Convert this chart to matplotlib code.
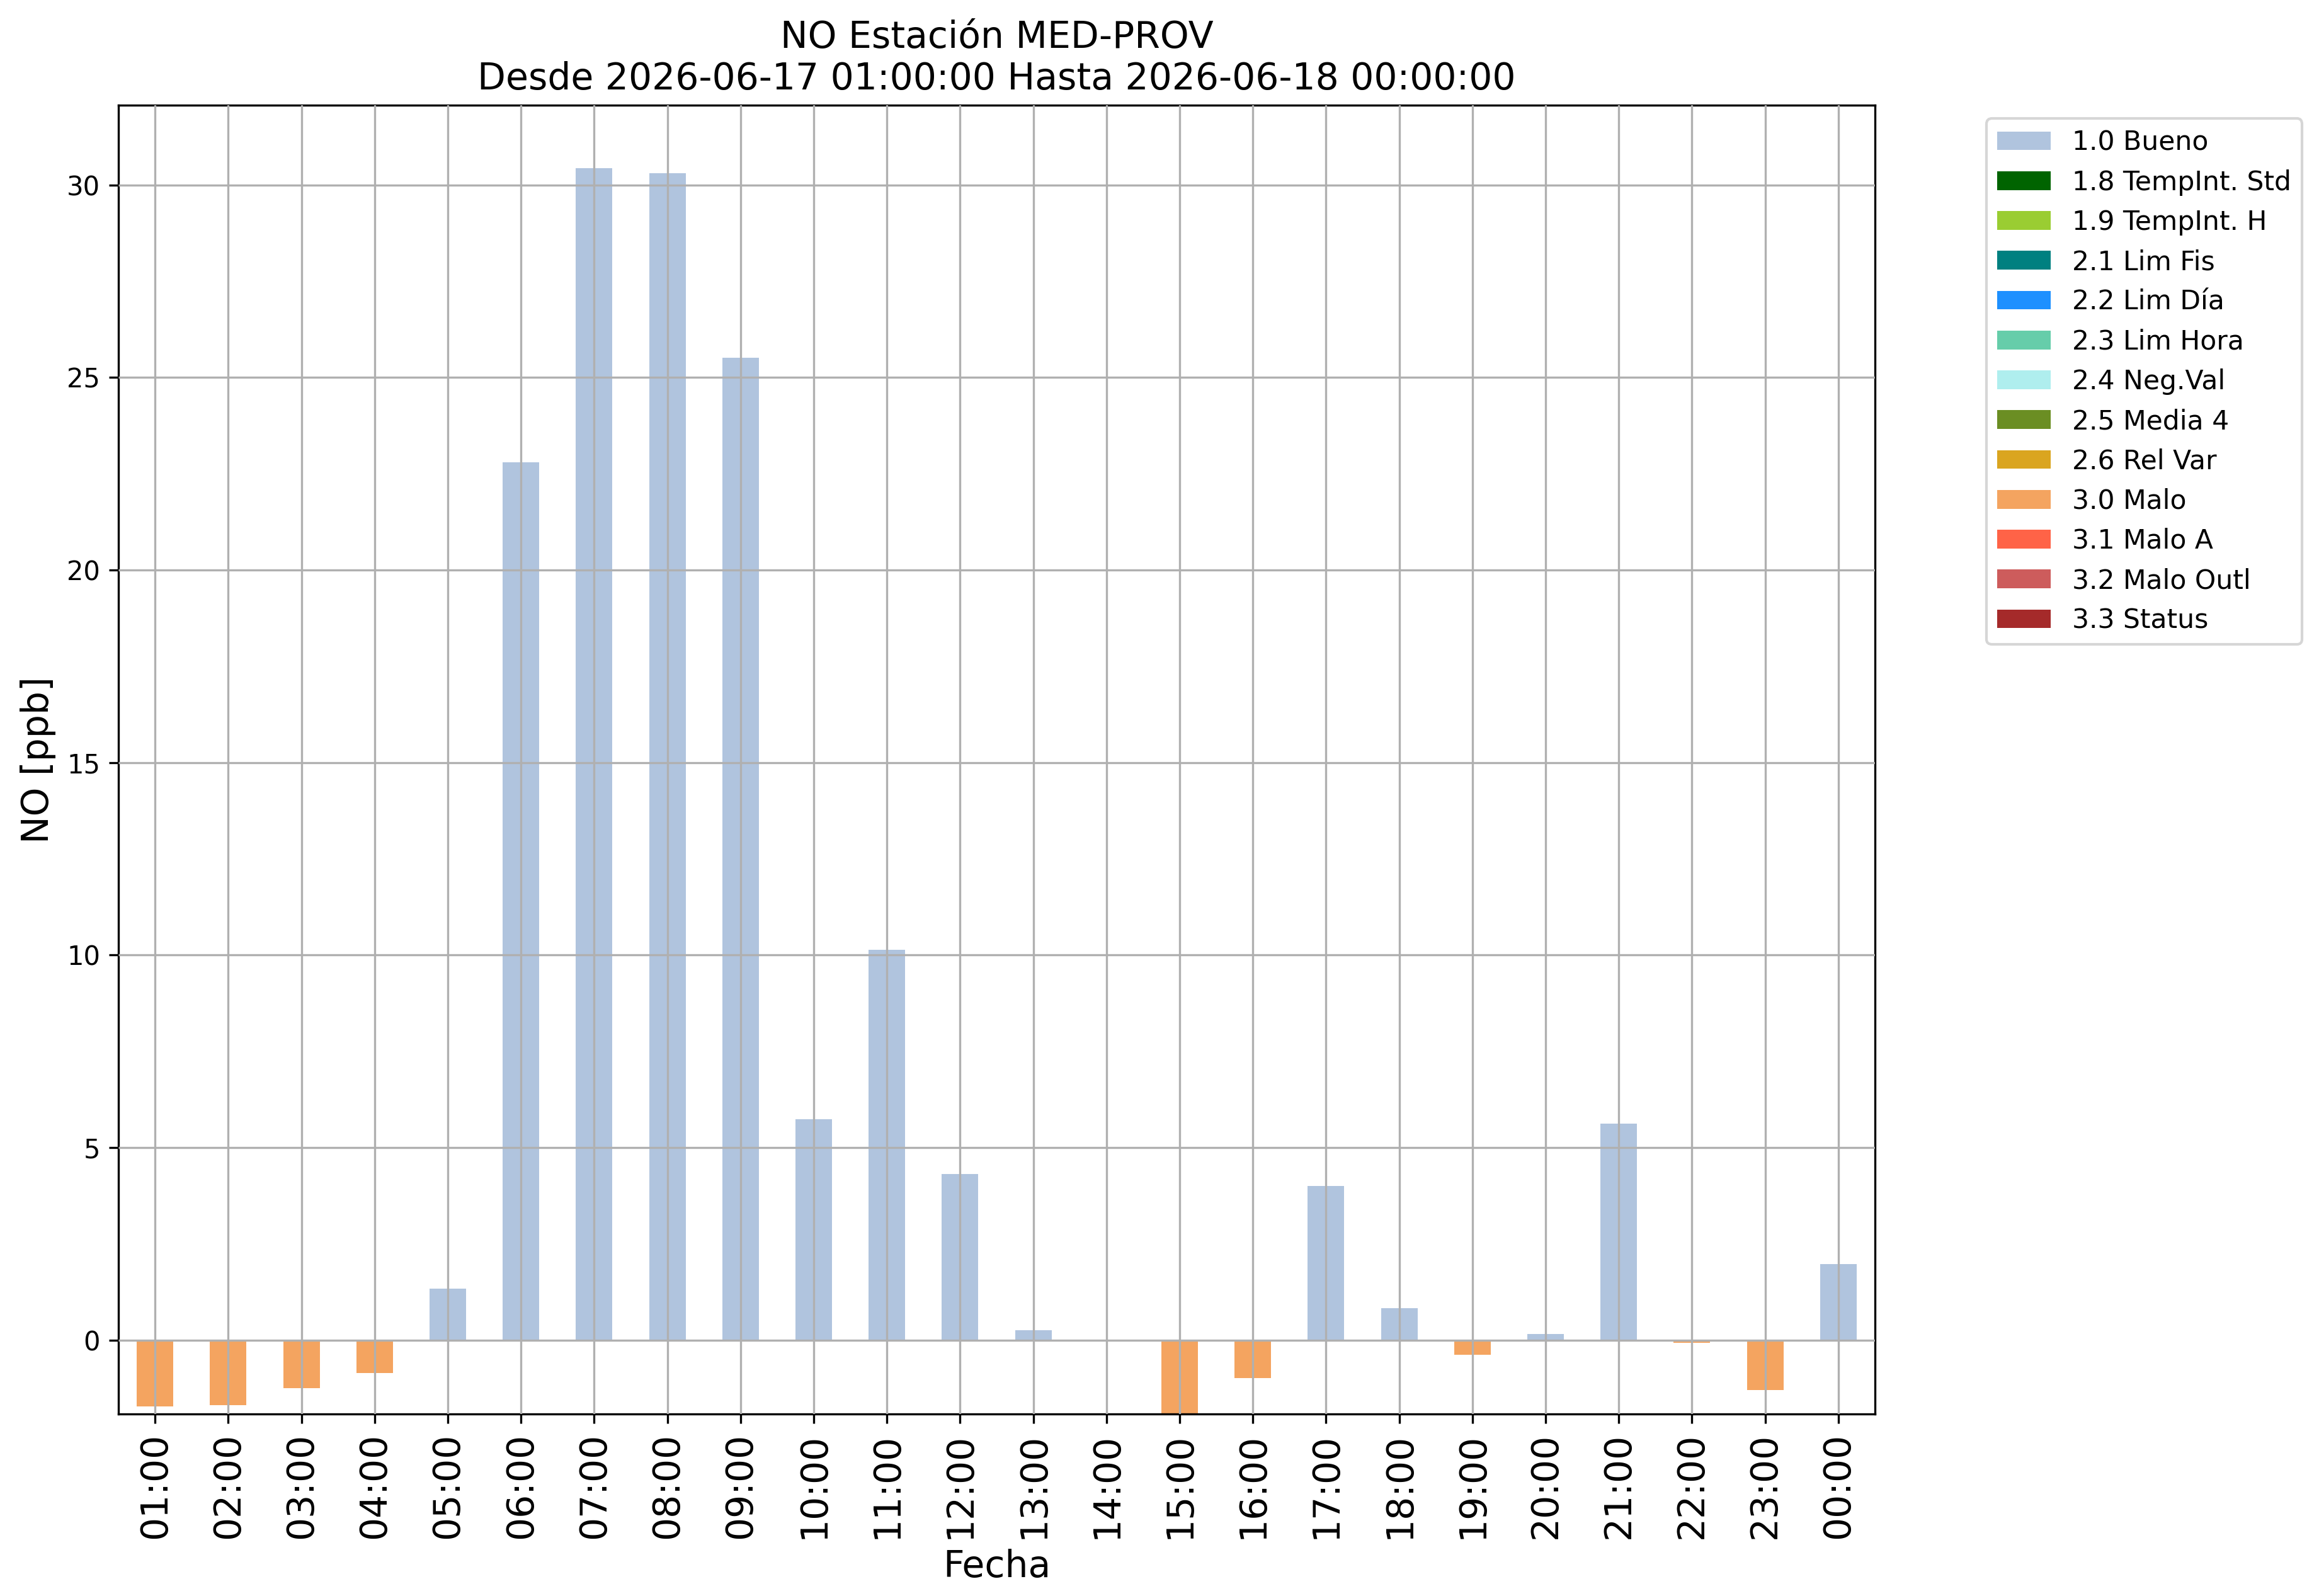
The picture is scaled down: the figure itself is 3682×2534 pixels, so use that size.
import matplotlib
matplotlib.use("Agg")
import matplotlib.pyplot as plt
import numpy as np

# Horas del periodo
horas = ['01:00', '02:00', '03:00', '04:00', '05:00', '06:00', '07:00', '08:00',
         '09:00', '10:00', '11:00', '12:00', '13:00', '14:00', '15:00', '16:00',
         '17:00', '18:00', '19:00', '20:00', '21:00', '22:00', '23:00', '00:00']

# Valores de NO [ppb]
valores = [-1.73, -1.69, -1.25, -0.86, 1.33, 22.8, 30.43, 30.31,
           25.52, 5.73, 10.14, 4.31, 0.25, 0.0, -2.1, -0.99,
           4.0, 0.82, -0.39, 0.15, 5.62, -0.07, -1.30, 1.98]

# Bandera de validacion de cada hora
banderas = [3.0, 3.0, 3.0, 3.0, 1.0, 1.0, 1.0, 1.0,
            1.0, 1.0, 1.0, 1.0, 1.0, 1.0, 3.0, 3.0,
            1.0, 1.0, 3.0, 1.0, 1.0, 3.0, 3.0, 1.0]

# Codigos, nombres y colores de las banderas
codigos = [1.0, 1.8, 1.9, 2.1, 2.2, 2.3, 2.4, 2.5, 2.6, 3.0, 3.1, 3.2, 3.3]
nombres = ['1.0 Bueno', '1.8 TempInt. Std', '1.9 TempInt. H', '2.1 Lim Fis',
           '2.2 Lim Día', '2.3 Lim Hora', '2.4 Neg.Val', '2.5 Media 4',
           '2.6 Rel Var', '3.0 Malo', '3.1 Malo A', '3.2 Malo Outl', '3.3 Status']
colores = ['lightsteelblue', 'darkgreen', 'yellowgreen', 'teal', 'dodgerblue',
           'mediumaquamarine', 'paleturquoise', 'olivedrab', 'goldenrod',
           'sandybrown', 'tomato', 'indianred', 'brown']

valores = np.array(valores)
banderas = np.array(banderas)
x = np.arange(len(horas))

fig = plt.figure(figsize=(3682 / 300, 2534 / 300), dpi=300)
ax = fig.add_axes([0.0511, 0.114, 0.8085 - 0.0511, 0.934 - 0.114])

# Una serie de barras por bandera
for codigo, nombre, color in zip(codigos, nombres, colores):
    alturas = np.where(banderas == codigo, valores, 0.0)
    ax.bar(x, alturas, width=0.5, color=color, label=nombre)

ax.set_xlim(-0.5, len(horas) - 0.5)
ax.set_ylim(-1.923, 32.07)
ax.set_xticks(x)
ax.set_xticklabels(horas, rotation=90, fontsize=14)
ax.tick_params(axis='y', labelsize=10)

ax.set_xlabel('Fecha', fontsize=14)
ax.set_ylabel('NO [ppb]', fontsize=14)
ax.set_title('NO Estación MED-PROV\nDesde 2026-06-17 01:00:00 Hasta 2026-06-18 00:00:00',
             fontsize=14)

ax.grid(True)
ax.set_axisbelow(False)

ax.legend(bbox_to_anchor=(1.056, 1), loc='upper left', fontsize=10.2)

fig.savefig('out.png', dpi=300)
